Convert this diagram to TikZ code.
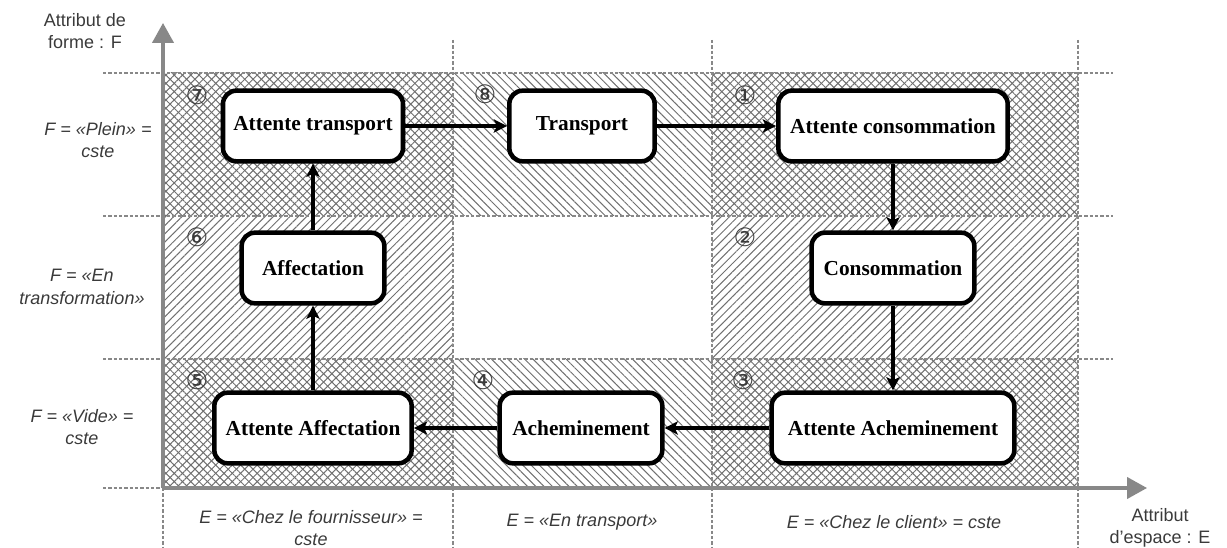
\documentclass[tikz,border=0pt]{standalone}
\usepackage{fontspec}
\setmainfont{Liberation Serif}
\setsansfont{Liberation Sans}
\newfontfamily\circfont{DejaVu Sans}
\usetikzlibrary{patterns.meta,arrows.meta}
\definecolor{hatch}{HTML}{707070}
\definecolor{axisgray}{HTML}{888888}
\definecolor{txtgray}{HTML}{3A3A3A}
\tikzset{
  stbox/.style={draw=black, line width=3.4pt, rounded corners=10pt, fill=white,
    minimum height=53pt, inner sep=2pt, font=\bfseries\fontsize{16}{19}\selectfont},
  flow/.style={line width=2.9pt, -{Stealth[length=10pt,width=10pt,inset=2.5pt]}},
  rowhatch/.style={pattern={Lines[angle=-45,distance=4.4pt,line width=0.75pt]}, pattern color=hatch},
  colhatch/.style={pattern={Lines[angle=45,distance=4.4pt,line width=0.75pt]}, pattern color=hatch},
  grid/.style={draw=axisgray, line width=1.2pt, dash pattern=on 2.5pt off 1.5pt},
  axis/.style={draw=axisgray, line width=2.3pt, -{Triangle[length=15pt,width=16pt]}},
  lbl/.style={text=txtgray, align=center, font=\sffamily\itshape\fontsize{13.5}{17}\selectfont},
  albl/.style={text=txtgray, align=center, font=\sffamily\fontsize{13.5}{17}\selectfont},
  num/.style={text=txtgray, font=\circfont\fontsize{19}{20}\selectfont, inner sep=0pt}
}
\begin{document}
\begin{tikzpicture}[x=0.75pt,y=-0.75pt]
\useasboundingbox (0,0) rectangle (1227,548);
% hatched bands
\path[rowhatch] (163,73) rectangle (1078,216);
\path[rowhatch] (163,359) rectangle (1078,488);
\path[colhatch] (163,73) rectangle (453,488);
\path[colhatch] (712,73) rectangle (1078,488);
% dashed grid
\coordinate (h1a) at (103,73);  \coordinate (h1b) at (1113,73);
\coordinate (h2a) at (103,216); \coordinate (h2b) at (1113,216);
\coordinate (h3a) at (103,359); \coordinate (h3b) at (1113,359);
\coordinate (h4a) at (103,488); \coordinate (h4b) at (1113,488);
\coordinate (v1a) at (453,40);  \coordinate (v1b) at (453,548);
\coordinate (v2a) at (712,40);  \coordinate (v2b) at (712,548);
\coordinate (v3a) at (1078,40); \coordinate (v3b) at (1078,548);
\coordinate (v0a) at (163,488); \coordinate (v0b) at (163,548);
\draw[grid] (h1a) -- (h1b);
\draw[grid] (h2a) -- (h2b);
\draw[grid] (h3a) -- (h3b);
\draw[grid] (h4a) -- (h4b);
\draw[grid] (v1a) -- (v1b);
\draw[grid] (v2a) -- (v2b);
\draw[grid] (v3a) -- (v3b);
\draw[grid] (v0a) -- (v0b);
% axes
\coordinate (O) at (163,488);
\coordinate (Xend) at (1147,488);
\coordinate (Yend) at (163,23);
\draw[axis] (O) -- (Xend);
\draw[axis] (O) -- (Yend);
% axis labels
\node[albl] (ylab) at (85,31) {Attribut de\\forme : F};
\node[albl] (xlab) at (1160,528) {Attribut\\d'espace : E};
\node[lbl] (f1) at (98,140) {F = «Plein» =\\cste};
\node[lbl] (f2) at (82,287) {F = «En\\transformation»};
\node[lbl] (f3) at (82,427) {F = «Vide» =\\cste};
\node[lbl] (e1) at (311,528) {E = «Chez le fournisseur» =\\cste};
\node[lbl] (e2) at (582,522) {E = «En transport»};
\node[lbl] (e3) at (894,522) {E = «Chez le client» = cste};
% circled numbers
\node[num] (n7) at (197,95) {⑦};
\node[num] (n8) at (485,94) {⑧};
\node[num] (n1) at (745,95) {①};
\node[num] (n6) at (197,237) {⑥};
\node[num] (n2) at (745,237) {②};
\node[num] (n5) at (197,380) {⑤};
\node[num] (n4) at (483,380) {④};
\node[num] (n3) at (743,380) {③};
% states
\node[stbox, minimum width=135pt] (AT) at (313,126) {Attente transport};
\node[stbox, minimum width=109pt] (TR) at (582,126) {Transport};
\node[stbox, minimum width=172pt] (AC) at (893,126) {Attente consommation};
\node[stbox, minimum width=107pt] (AF) at (313,268) {Affectation};
\node[stbox, minimum width=122pt] (CO) at (893,268) {Consommation};
\node[stbox, minimum width=148pt] (AA) at (313,428) {Attente Affectation};
\node[stbox, minimum width=122pt] (AH) at (581,428) {Acheminement};
\node[stbox, minimum width=182pt] (AAH) at (893,428) {Attente Acheminement};
% flows
\draw[flow] (AT) -- (TR);
\draw[flow] (TR) -- (AC);
\draw[flow] (AC) -- (CO);
\draw[flow] (CO) -- (AAH);
\draw[flow] (AAH) -- (AH);
\draw[flow] (AH) -- (AA);
\draw[flow] (AA) -- (AF);
\draw[flow] (AF) -- (AT);
\end{tikzpicture}
\end{document}
